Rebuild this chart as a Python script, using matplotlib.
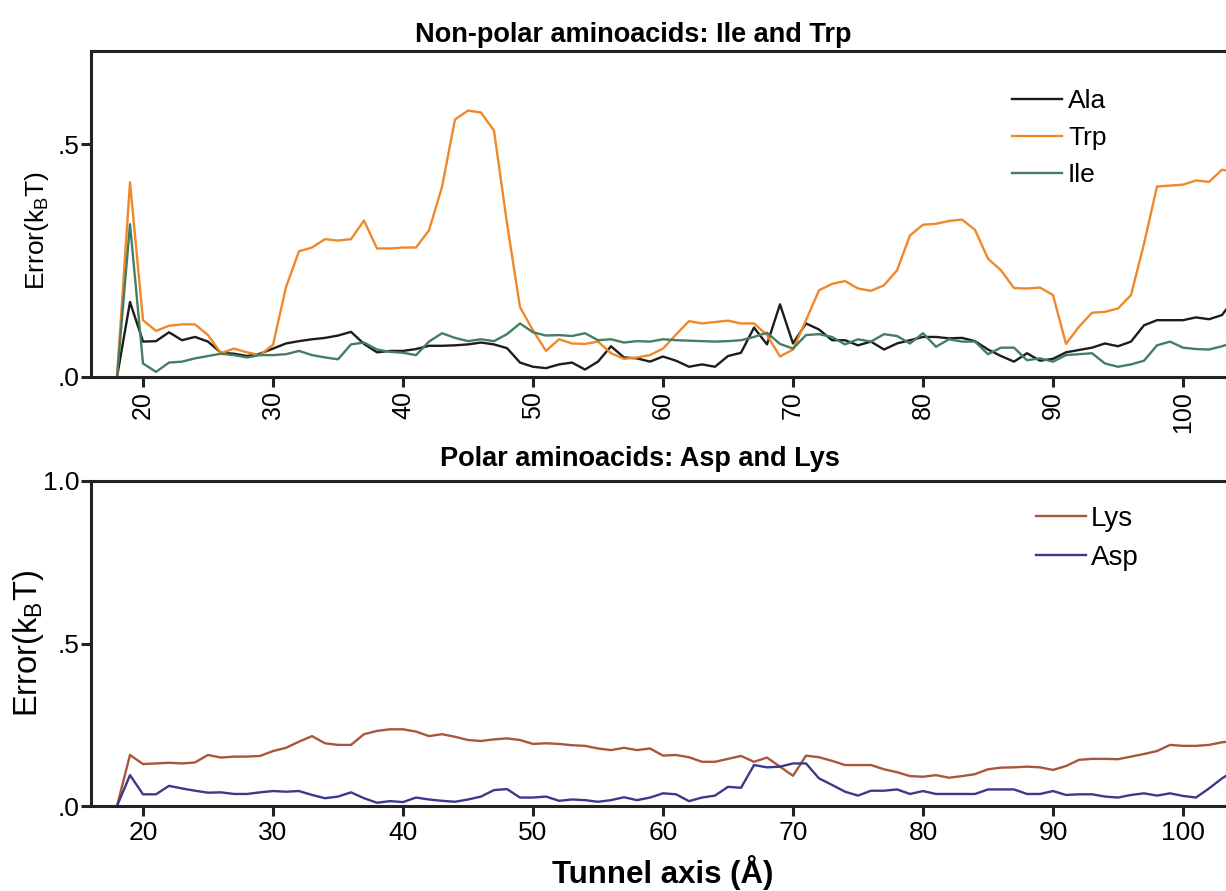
import numpy as np
import matplotlib
matplotlib.use("Agg")
import matplotlib.pyplot as plt

plt.rcParams['font.family'] = ['Liberation Sans', 'DejaVu Sans']
plt.rcParams['mathtext.default'] = 'regular'

# tunnel axis positions (Angstrom)
tunnel_x = np.arange(18, 105)

# non-polar residues
ala_err = [0.0, 0.161,
           0.076, 0.077, 0.096, 0.079, 0.086, 0.076, 0.052, 0.050, 0.045, 0.050,
           0.061, 0.072, 0.077, 0.081, 0.084, 0.089, 0.097, 0.071, 0.053, 0.056,
           0.056, 0.060, 0.067, 0.067, 0.068, 0.070, 0.074, 0.070, 0.062, 0.031,
           0.022, 0.019, 0.027, 0.031, 0.016, 0.033, 0.066, 0.042, 0.040, 0.033,
           0.044, 0.035, 0.022, 0.027, 0.022, 0.045, 0.052, 0.106, 0.070, 0.156,
           0.072, 0.115, 0.102, 0.079, 0.079, 0.068, 0.076, 0.059, 0.072, 0.079,
           0.086, 0.086, 0.083, 0.084, 0.077, 0.059, 0.045, 0.033, 0.051, 0.035,
           0.039, 0.053, 0.058, 0.063, 0.072, 0.066, 0.076, 0.111, 0.122, 0.122,
           0.122, 0.128, 0.124, 0.133, 0.170]
trp_err = [0.0, 0.418,
           0.122, 0.099, 0.110, 0.113, 0.113, 0.090, 0.051, 0.061, 0.053, 0.047,
           0.069, 0.193, 0.270, 0.278, 0.296, 0.293, 0.296, 0.336, 0.276, 0.276,
           0.278, 0.278, 0.315, 0.408, 0.553, 0.572, 0.568, 0.529, 0.330, 0.150,
           0.100, 0.056, 0.081, 0.072, 0.071, 0.076, 0.051, 0.039, 0.042, 0.047,
           0.061, 0.091, 0.120, 0.115, 0.118, 0.121, 0.115, 0.115, 0.090, 0.044,
           0.059, 0.122, 0.186, 0.200, 0.206, 0.190, 0.185, 0.197, 0.229, 0.304,
           0.327, 0.329, 0.335, 0.338, 0.316, 0.254, 0.229, 0.191, 0.190, 0.192,
           0.176, 0.071, 0.108, 0.138, 0.140, 0.147, 0.176, 0.286, 0.409, 0.411,
           0.413, 0.422, 0.419, 0.445, 0.440]
ile_err = [0.0, 0.328,
           0.029, 0.011, 0.031, 0.033, 0.040, 0.045, 0.050, 0.047, 0.042, 0.047,
           0.047, 0.049, 0.056, 0.047, 0.042, 0.038, 0.070, 0.074, 0.059, 0.054,
           0.052, 0.047, 0.076, 0.094, 0.084, 0.077, 0.081, 0.077, 0.092, 0.115,
           0.096, 0.089, 0.090, 0.088, 0.094, 0.079, 0.081, 0.074, 0.077, 0.076,
           0.081, 0.079, 0.078, 0.077, 0.076, 0.077, 0.079, 0.086, 0.095, 0.071,
           0.061, 0.090, 0.092, 0.086, 0.070, 0.081, 0.076, 0.092, 0.088, 0.072,
           0.094, 0.065, 0.081, 0.076, 0.076, 0.049, 0.063, 0.063, 0.036, 0.040,
           0.033, 0.047, 0.049, 0.051, 0.029, 0.022, 0.027, 0.035, 0.068, 0.076,
           0.063, 0.060, 0.059, 0.066, 0.075]

# polar residues
lys_err = [0.0, 0.157,
           0.129, 0.131, 0.133, 0.131, 0.134, 0.157, 0.149, 0.152, 0.152, 0.154,
           0.169, 0.179, 0.198, 0.215, 0.193, 0.188, 0.188, 0.221, 0.231, 0.236,
           0.236, 0.229, 0.215, 0.221, 0.213, 0.203, 0.200, 0.205, 0.208, 0.203,
           0.191, 0.193, 0.191, 0.187, 0.185, 0.177, 0.172, 0.179, 0.172, 0.177,
           0.155, 0.157, 0.150, 0.136, 0.136, 0.145, 0.154, 0.136, 0.149, 0.121,
           0.093, 0.155, 0.150, 0.139, 0.126, 0.126, 0.126, 0.113, 0.104, 0.092,
           0.090, 0.095, 0.087, 0.092, 0.098, 0.113, 0.118, 0.119, 0.121, 0.119,
           0.111, 0.123, 0.142, 0.145, 0.145, 0.144, 0.152, 0.160, 0.169, 0.188,
           0.185, 0.185, 0.188, 0.196, 0.200]
asp_err = [0.0, 0.095,
           0.036, 0.036, 0.062, 0.054, 0.047, 0.041, 0.042, 0.037, 0.037, 0.042,
           0.046, 0.044, 0.046, 0.034, 0.024, 0.029, 0.042, 0.024, 0.010, 0.015,
           0.012, 0.026, 0.020, 0.016, 0.013, 0.020, 0.029, 0.049, 0.052, 0.026,
           0.026, 0.029, 0.016, 0.020, 0.018, 0.013, 0.018, 0.027, 0.018, 0.026,
           0.039, 0.036, 0.015, 0.026, 0.032, 0.059, 0.056, 0.126, 0.119, 0.121,
           0.131, 0.131, 0.085, 0.065, 0.044, 0.032, 0.047, 0.047, 0.051, 0.037,
           0.046, 0.037, 0.037, 0.037, 0.037, 0.051, 0.051, 0.051, 0.037, 0.037,
           0.046, 0.034, 0.036, 0.036, 0.029, 0.026, 0.034, 0.039, 0.032, 0.039,
           0.031, 0.026, 0.054, 0.085, 0.110]

top_ticks = [0.0, 0.5]
top_ticklabels = ['.0', '.5']
bot_ticks = [0.0, 0.5, 1.0]
bot_ticklabels = ['.0', '.5', '1.0']
x_ticks = [20, 30, 40, 50, 60, 70, 80, 90, 100]

W, H = 1226, 891
fig = plt.figure(figsize=(W / 100, H / 100), dpi=100)

# axes extend past the right edge of the figure
ax1 = fig.add_axes([91 / W, 1 - 377 / H, 1170 / W, 326 / H])
ax2 = fig.add_axes([91 / W, 1 - 806 / H, 1170 / W, 325 / H])

lw = 1.7
ax1.plot(tunnel_x, ala_err, color='#1c1c1c', lw=lw, label='Ala')
ax1.plot(tunnel_x, trp_err, color='#f0882a', lw=lw, label='Trp')
ax1.plot(tunnel_x, ile_err, color='#457d62', lw=lw, label='Ile')

ax2.plot(tunnel_x, lys_err, color='#a8573c', lw=lw, label='Lys')
ax2.plot(tunnel_x, asp_err, color='#3a3a8c', lw=lw, label='Asp')

for ax in (ax1, ax2):
    ax.set_xlim(16, 106)
    ax.set_xticks(x_ticks)
    for s in ax.spines.values():
        s.set_linewidth(2.2)
        s.set_color('#222222')
    ax.tick_params(width=2.2, length=7, color='#222222')

ax1.set_ylim(0, 0.7)
ax1.set_yticks(top_ticks)
ax1.set_yticklabels(top_ticklabels)
ax1.tick_params(axis='y', labelsize=19, pad=1)
ax1.tick_params(axis='x', labelsize=18, pad=3, labelrotation=90)

ax2.set_ylim(0, 1.0)
ax2.set_yticks(bot_ticks)
ax2.set_yticklabels(bot_ticklabels)
ax2.tick_params(axis='y', labelsize=19, pad=1)
ax2.tick_params(axis='x', labelsize=19, pad=4)

# titles and labels
fig.text(633 / W, 1 - 42 / H, 'Non-polar aminoacids: Ile and Trp',
         ha='center', va='baseline', fontsize=19.5, fontweight='bold')
fig.text(640 / W, 1 - 466 / H, 'Polar aminoacids: Asp and Lys',
         ha='center', va='baseline', fontsize=19.5, fontweight='bold')
fig.text(663 / W, 1 - 873 / H, 'Tunnel axis (Å)',
         ha='center', va='center', fontsize=22.5, fontweight='bold')
fig.text(37 / W, 1 - 230 / H, r'Error(k$_{B}$T)', rotation=90,
         ha='center', va='center', fontsize=19)
fig.text(29 / W, 1 - 644 / H, r'Error(k$_{B}$T)', rotation=90,
         ha='center', va='center', fontsize=23.5)

ax1.legend(loc='upper left', bbox_to_anchor=(1012 / W, 1 - 89 / H),
           bbox_transform=fig.transFigure, frameon=False, fontsize=19,
           handlelength=1.9, handletextpad=0.22, labelspacing=0.5,
           borderpad=0, borderaxespad=0)
ax2.legend(loc='upper left', bbox_to_anchor=(1036 / W, 1 - 506 / H),
           bbox_transform=fig.transFigure, frameon=False, fontsize=20,
           handlelength=1.8, handletextpad=0.18, labelspacing=0.46,
           borderpad=0, borderaxespad=0)

fig.savefig('out.png', dpi=100)
